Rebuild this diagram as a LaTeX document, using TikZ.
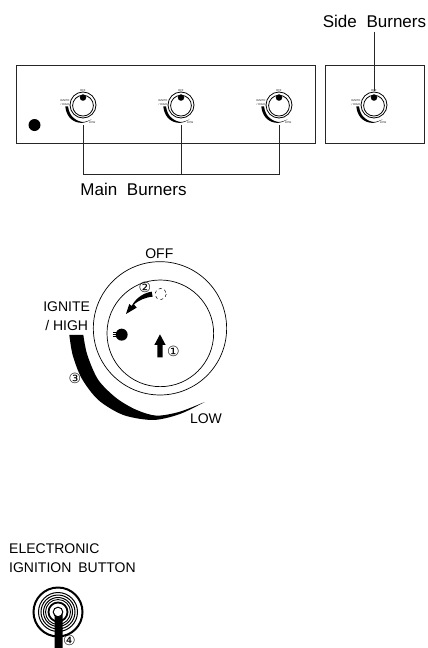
\documentclass[tikz,border=0pt]{standalone}
\usepackage{fontspec}
\setmainfont{Liberation Sans}
\newfontfamily\symfont{DejaVu Sans}
\tikzset{
  panel/.style={draw=black!85,line width=0.8pt},
  leader/.style={draw=black!85,line width=0.8pt},
  lab/.style={inner sep=0pt,font=\fontsize{17}{19}\selectfont},
  biglab/.style={inner sep=0pt,align=center,font=\fontsize{14}{18.5}\selectfont},
  btnlab/.style={inner sep=0pt,align=left,font=\fontsize{14}{19.5}\selectfont},
  circ/.style={inner sep=0pt,font=\symfont\fontsize{14}{14}\selectfont},
  tinylab/.style={inner sep=0pt,align=center,font=\fontsize{2.8}{3.3}\selectfont,text=black!85},
  dial/.style={draw=black,line width=0.7pt}
}
\newcommand{\crescent}{%
  \fill plot[smooth] coordinates {(118,285)(128,345)(155,415)(205,480)(280,525)(370,540)(450,522)(524,486)}
   -- plot[smooth] coordinates {(524,486)(450,515)(380,527)(320,510)(260,475)(205,420)(172,345)(160,285)} -- cycle;}
\newcommand{\smallknob}[2]{%
  \begin{scope}[shift={(#1,#2)},x=0.065pt,y=-0.065pt,shift={(-390,-265)}]
    \crescent
    \draw[line width=0.8pt] (390,265) circle [radius=200];
    \draw[line width=0.8pt] (390,275) circle [radius=160];
    \fill (390,150) circle [radius=50];
    \node[tinylab] at (388,40) {OFF};
    \node[tinylab] at (110,225) {IGNITE\\/ HIGH};
    \node[tinylab] at (530,535) {LOW};
  \end{scope}}
\begin{document}
\begin{tikzpicture}[x=1pt,y=-1pt]
\useasboundingbox (0,0) rectangle (428,648);
\fill[white] (0,0) rectangle (428,648);
% panels
\node[panel,minimum width=299pt,minimum height=78pt,inner sep=0pt,anchor=north west] (main) at (16,65) {};
\node[panel,minimum width=99pt,minimum height=78pt,inner sep=0pt,anchor=north west] (side) at (325,65) {};
\fill (34.5,125) circle [radius=6];
\smallknob{83}{105}
\smallknob{181}{105}
\smallknob{279}{105}
\smallknob{374}{105}
% leaders
\coordinate (m1) at (83,125); \coordinate (m2) at (181,125); \coordinate (m3) at (279,125);
\coordinate (b1) at (83,174.5); \coordinate (b2) at (181,174.5); \coordinate (b3) at (279,174.5);
\draw[leader] (m1) -- (b1) -- (b3) -- (m3);
\draw[leader] (m2) -- (b2);
\node[lab] (mainlab) at (133.5,189) {Main\hspace{5pt} Burners};
\node[lab] (sidelab) at (374.5,21) {Side\hspace{5pt} Burners};
\coordinate (s1) at (374.5,32); \coordinate (s2) at (374.5,91);
\draw[leader] (s1) -- (s2);
% big dial
\begin{scope}[shift={(30,240)},x=0.3333pt,y=-0.3333pt]
  \crescent
  \draw[dial] (390,265) circle [radius=200];
  \draw[dial] (391,280) circle [radius=160];
  \fill (275,284) circle [radius=18];
  \draw[line width=0.5pt] (250,278) -- (262,278) (248,284) -- (262,284) (250,290) -- (262,290);
  % curved arrow
  \fill (368,170) .. controls (345,172) and (325,182) .. (312,193) -- (320,203) -- (288,222) -- (298,192) -- (305,198)
     .. controls (320,170) and (345,158) .. (365,155) -- cycle;
  \draw[line width=0.5pt,dash pattern=on 3pt off 3pt] (392,162) circle [radius=17];
  % up arrow
  \fill (382,352) -- (382,315) -- (373,315) -- (390,283) -- (407,315) -- (398,315) -- (398,352) -- cycle;
  \node[biglab] (off) at (388,42) {OFF};
  \node[biglab] (ign) at (110,229) {IGNITE\\/ HIGH};
  \node[biglab] (low) at (528,537) {LOW};
  \node[circ] (c1) at (430,335) {①};
  \node[circ] (c2) at (345,142) {②};
  \node[circ] (c3) at (135,416) {③};
\end{scope}
% button
\node[btnlab,anchor=west] (btn) at (9,558) {ELECTRONIC\\IGNITION\hspace{3pt} BUTTON};
\foreach \r/\w in {24.5/2,19.5/1,17/1,14.5/1,12.5/0.9,9.5/1.8,4.8/1}
  \draw[line width=\w pt] (58,612) circle [radius=\r];
\fill (54.5,613) -- (54.5,648) -- (62.5,648) -- (62.5,613) arc (0:180:4) -- cycle;
\node[circ] (c4) at (69.5,640.5) {④};
\end{tikzpicture}
\end{document}
